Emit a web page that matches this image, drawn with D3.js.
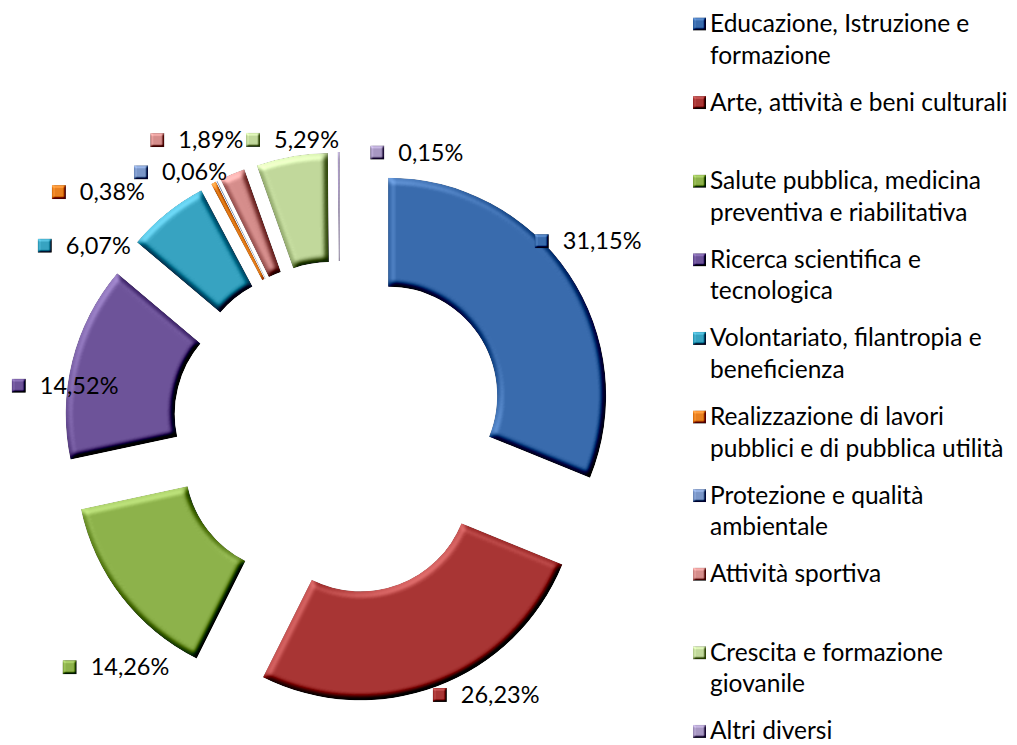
<!DOCTYPE html>
<html>
<head>
<meta charset="utf-8">
<script src="https://cdn.jsdelivr.net/npm/d3@7"></script>
<style>
  body { margin: 0; background: #fff; }
  svg { display: block; font-family: Lato, "Open Sans", sans-serif; }
</style>
</head>
<body>
<div id="chart"></div>
<script>
// categories and shares (%)
var categories = [
  "Educazione, Istruzione e formazione",
  "Arte, attività e beni culturali",
  "Salute pubblica, medicina preventiva e riabilitativa",
  "Ricerca scientifica e tecnologica",
  "Volontariato, filantropia e beneficienza",
  "Realizzazione di lavori pubblici e di pubblica utilità",
  "Protezione e qualità ambientale",
  "Attività sportiva",
  "Crescita e formazione giovanile",
  "Altri diversi"
];
var values = [31.15, 26.23, 14.26, 14.52, 6.07, 0.38, 0.06, 1.89, 5.29, 0.15];
var colors = ["#396bad", "#a83534", "#8db24b", "#6d5399", "#37a3c1",
              "#e8801f", "#7a96c8", "#d58d8b", "#c1d89b", "#a797c2"];

// where excel put the data labels (degrees from top, distance from centre)
var labelAngle = [47.2, 159.5, 228.5, 277.5, 301.7, 310, 322.1, 327.6, 343.2, 7.7];
var labelRadius = [275, 285, 361, 324, 347, 367, 324, 341, 301, 278];

var W = 1017, H = 745;
var cx = 340, cy = 428,
    outerR = 218, innerR = 109,
    explode = 58;

var svg = d3.select("#chart").append("svg")
    .attr("width", W)
    .attr("height", H);

// bevel-ish lighting
var defs = svg.append("defs");
function bevel(id, sd, scale, k) {
  var f = defs.append("filter")
      .attr("id", id)
      .attr("x", "-10%").attr("y", "-10%")
      .attr("width", "120%").attr("height", "120%")
      .attr("color-interpolation-filters", "sRGB");
  f.append("feGaussianBlur")
      .attr("in", "SourceAlpha").attr("stdDeviation", sd).attr("result", "blur");
  f.append("feDiffuseLighting")
      .attr("in", "blur").attr("surfaceScale", scale).attr("diffuseConstant", 1)
      .attr("lighting-color", "#fff").attr("result", "light")
    .append("feDistantLight")
      .attr("azimuth", 235).attr("elevation", 50);
  var flat = Math.sin(50 * Math.PI / 180);
  f.append("feComposite")
      .attr("in", "SourceGraphic").attr("in2", "light")
      .attr("operator", "arithmetic")
      .attr("k1", 0).attr("k2", 1).attr("k3", k).attr("k4", -k * flat)
      .attr("result", "lit");
  f.append("feComposite")
      .attr("in", "lit").attr("in2", "SourceAlpha").attr("operator", "in");
}
bevel("bevel", 3, 6, 0.9);
bevel("bevelSmall", 1.2, 3, 0.8);

var pie = d3.pie()
    .sort(null)
    .value(function(d) { return d; });

var arc = d3.arc()
    .innerRadius(innerR)
    .outerRadius(outerR);

var arcs = pie(values);

svg.append("g")
  .selectAll("path")
  .data(arcs)
  .enter().append("path")
    .attr("d", arc)
    .attr("fill", function(d, i) { return colors[i]; })
    .attr("filter", "url(#bevel)")
    .attr("transform", function(d) {
      var mid = (d.startAngle + d.endAngle) / 2;
      return "translate(" + (cx + explode * Math.sin(mid)) + "," + (cy - explode * Math.cos(mid)) + ")";
    });

// data labels
var fmt = function(v) { return v.toFixed(2).replace(".", ",") + "%"; };

var labels = svg.append("g")
  .selectAll("g")
  .data(values)
  .enter().append("g")
    .attr("transform", function(d, i) {
      var a = labelAngle[i] * Math.PI / 180;
      return "translate(" + (cx + labelRadius[i] * Math.sin(a)) + "," + (cy - labelRadius[i] * Math.cos(a)) + ")";
    });

labels.append("rect")
    .attr("x", -7).attr("y", -7)
    .attr("width", 14).attr("height", 14)
    .attr("fill", function(d, i) { return colors[i]; })
    .attr("filter", "url(#bevelSmall)");

labels.append("text")
    .attr("x", 21)
    .attr("y", 8)
    .attr("font-size", 23.5)
    .attr("fill", "#000")
    .text(fmt);

// legend
var legX = 710, legY = 24, legStep = 78.6, lineH = 31.5, legMax = 306;

var legend = svg.append("g")
  .selectAll("g")
  .data(categories)
  .enter().append("g")
    .attr("transform", function(d, i) { return "translate(" + legX + "," + (legY + i * legStep) + ")"; });

legend.append("rect")
    .attr("x", -17).attr("y", -6.5)
    .attr("width", 13).attr("height", 13)
    .attr("fill", function(d, i) { return colors[i]; })
    .attr("filter", "url(#bevelSmall)");

legend.each(function(d) {
  var g = d3.select(this);
  var words = d.split(" ");
  var t = g.append("text").attr("font-size", 24.5).attr("fill", "#000");
  var line = [], n = 0;
  var tspan = t.append("tspan").attr("x", 0).attr("y", 8);
  words.forEach(function(w) {
    line.push(w);
    tspan.text(line.join(" "));
    if (tspan.node().getComputedTextLength() > legMax && line.length > 1) {
      line.pop();
      tspan.text(line.join(" "));
      line = [w];
      n++;
      tspan = t.append("tspan").attr("x", 0).attr("y", 8 + n * lineH).text(w);
    }
  });
});
</script>
</body>
</html>
